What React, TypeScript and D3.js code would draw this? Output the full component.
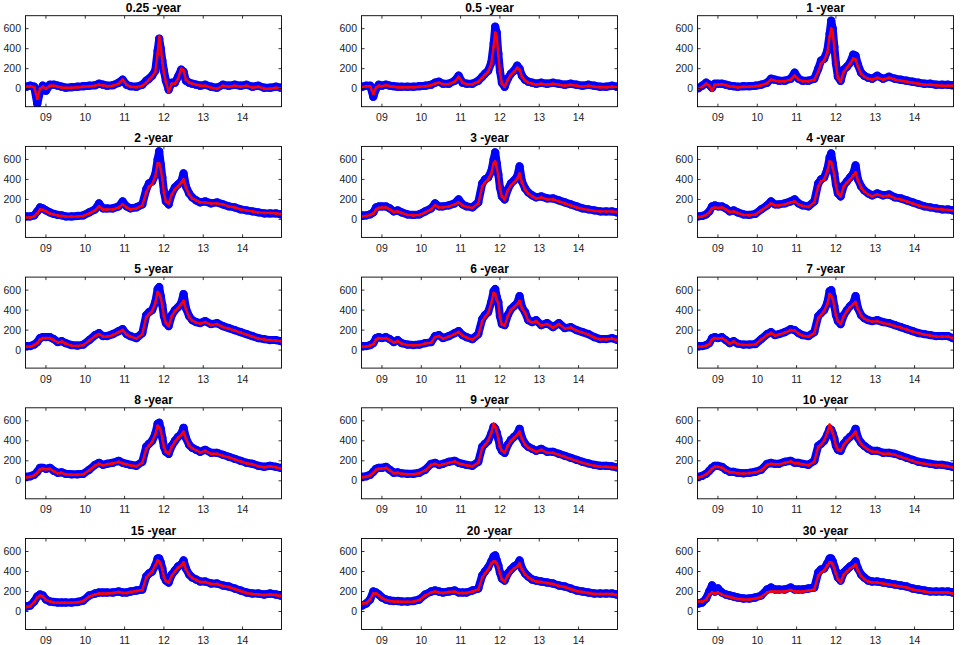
import React, { useEffect, useRef } from 'react';
import * as d3 from 'd3';

// Observation dates (decimal years), shared by all maturities
const dates = [
  2008.50, 2008.60, 2008.70, 2008.78, 2008.85, 2008.92, 2009.00, 2009.10, 2009.20, 2009.30,
  2009.40, 2009.50, 2009.65, 2009.80, 2009.95, 2010.10, 2010.25, 2010.35, 2010.45, 2010.55,
  2010.70, 2010.85, 2010.95, 2011.05, 2011.15, 2011.30, 2011.45, 2011.55, 2011.62, 2011.70,
  2011.78, 2011.84, 2011.88, 2011.92, 2011.96, 2012.00, 2012.05, 2012.12, 2012.20, 2012.28,
  2012.36, 2012.44, 2012.50, 2012.56, 2012.64, 2012.72, 2012.82, 2012.92, 2013.05, 2013.20,
  2013.35, 2013.50, 2013.65, 2013.80, 2013.95, 2014.10, 2014.25, 2014.40, 2014.55, 2014.70,
  2014.85, 2014.97
];

const maturities = ['0.25', '0.5', '1', '2', '3', '4', '5', '6', '7', '8', '9', '10', '15', '20', '30'];

const yTicks = [0, 200, 400, 600];
const xTicks = [2009, 2010, 2011, 2012, 2013, 2014];
const xTickLabels = ['09', '10', '11', '12', '13', '14'];

// observed (blue circles)
const obs025 = [20, 30, 20, -150, -30, 30, -20, 40, 40, 30, 20, 10, 15, 20, 25, 30, 35, 50, 40, 30, 35, 60, 90, 40, 25, 20, 40, 80, 100, 130, 180, 380, 500, 400, 280, 180, 80, -10, 60, 60, 120, 190, 170, 80, 60, 50, 40, 30, 40, 20, 10, 40, 30, 40, 30, 40, 20, 30, 10, 10, 20, 10];
const obs05 = [20, 30, 30, -80, 0, 40, 30, 40, 30, 25, 20, 20, 20, 20, 25, 30, 40, 60, 70, 50, 50, 80, 130, 60, 50, 50, 80, 120, 150, 180, 260, 450, 620, 560, 350, 180, 60, 20, 100, 150, 180, 230, 200, 130, 90, 70, 60, 50, 60, 50, 60, 50, 40, 50, 40, 30, 40, 30, 20, 20, 30, 20];
const obs1 = [5, 30, 60, 40, 10, 50, 50, 50, 40, 30, 25, 20, 25, 25, 30, 40, 60, 100, 90, 80, 80, 100, 160, 100, 80, 80, 100, 200, 280, 300, 380, 550, 680, 600, 420, 250, 120, 80, 190, 220, 260, 340, 330, 240, 160, 130, 110, 100, 130, 100, 120, 100, 90, 80, 70, 60, 50, 50, 40, 40, 40, 35];
const obs2 = [30, 30, 40, 80, 120, 110, 90, 70, 55, 45, 40, 30, 30, 35, 40, 70, 100, 160, 110, 110, 110, 130, 180, 130, 110, 120, 150, 300, 360, 380, 450, 600, 680, 550, 420, 280, 180, 150, 260, 320, 350, 380, 460, 330, 260, 220, 190, 170, 180, 160, 170, 150, 130, 120, 100, 90, 80, 70, 60, 60, 60, 50];
const obs3 = [40, 40, 50, 70, 120, 130, 130, 130, 110, 80, 90, 70, 50, 45, 50, 80, 110, 160, 130, 130, 140, 160, 200, 150, 130, 120, 170, 360, 400, 420, 480, 600, 670, 560, 450, 320, 230, 200, 300, 360, 390, 430, 530, 380, 310, 270, 240, 220, 230, 210, 210, 190, 170, 150, 130, 110, 100, 90, 80, 80, 80, 70];
const obs4 = [30, 35, 50, 80, 130, 140, 130, 130, 110, 80, 90, 70, 50, 45, 55, 100, 140, 180, 150, 150, 160, 180, 200, 160, 140, 130, 180, 360, 400, 420, 500, 620, 660, 560, 460, 350, 260, 230, 340, 380, 420, 460, 540, 400, 330, 290, 260, 240, 260, 240, 250, 220, 210, 190, 170, 150, 130, 120, 110, 100, 100, 90];
const obs5 = [40, 40, 55, 80, 120, 130, 130, 130, 110, 80, 90, 70, 50, 45, 55, 100, 150, 170, 140, 140, 160, 190, 210, 160, 140, 120, 170, 350, 380, 400, 480, 610, 630, 540, 450, 340, 270, 240, 350, 400, 430, 470, 560, 420, 340, 300, 280, 270, 290, 260, 270, 240, 220, 200, 180, 160, 140, 120, 110, 100, 100, 90];
const obs6 = [40, 40, 50, 70, 120, 130, 120, 130, 110, 80, 100, 70, 55, 50, 55, 70, 80, 140, 150, 120, 140, 170, 190, 150, 130, 110, 160, 310, 350, 380, 480, 590, 610, 530, 480, 340, 260, 250, 350, 410, 440, 470, 540, 430, 380, 300, 280, 300, 250, 270, 230, 270, 220, 230, 200, 180, 160, 130, 110, 110, 120, 105];
const obs7 = [40, 40, 50, 70, 120, 130, 120, 130, 100, 70, 90, 65, 55, 55, 60, 110, 160, 180, 150, 160, 180, 210, 200, 170, 150, 140, 180, 340, 370, 400, 470, 590, 600, 530, 440, 350, 290, 260, 350, 400, 440, 470, 540, 420, 350, 320, 300, 290, 300, 280, 270, 250, 230, 210, 190, 170, 160, 150, 140, 140, 140, 120];
const obs8 = [40, 45, 60, 90, 130, 130, 120, 130, 100, 80, 85, 70, 65, 65, 70, 110, 160, 180, 160, 170, 180, 200, 180, 170, 160, 150, 190, 340, 370, 400, 470, 570, 580, 520, 430, 340, 290, 270, 350, 400, 440, 470, 530, 430, 360, 330, 310, 290, 310, 280, 280, 260, 240, 220, 200, 180, 170, 150, 140, 150, 140, 130];
const obs9 = [40, 45, 60, 90, 120, 130, 130, 140, 110, 80, 85, 75, 70, 70, 80, 110, 170, 180, 160, 170, 190, 200, 180, 170, 160, 150, 190, 340, 370, 400, 470, 540, 520, 480, 420, 340, 300, 280, 360, 410, 440, 470, 520, 430, 370, 340, 320, 300, 320, 290, 290, 270, 250, 230, 210, 190, 175, 160, 150, 150, 145, 135];
const obs10 = [40, 50, 70, 100, 130, 150, 150, 140, 110, 90, 90, 80, 75, 80, 90, 110, 170, 180, 170, 170, 190, 200, 180, 180, 170, 160, 200, 350, 370, 400, 460, 520, 510, 470, 420, 350, 310, 300, 370, 410, 440, 470, 520, 430, 380, 350, 320, 300, 300, 280, 280, 270, 250, 230, 210, 190, 180, 170, 160, 160, 150, 140];
const obs15 = [50, 60, 100, 150, 170, 160, 120, 100, 95, 90, 90, 90, 90, 95, 110, 160, 180, 190, 190, 190, 190, 200, 190, 190, 200, 210, 220, 350, 380, 400, 460, 530, 530, 490, 430, 350, 310, 290, 370, 410, 450, 470, 510, 430, 370, 340, 320, 300, 300, 280, 280, 260, 250, 230, 210, 190, 180, 180, 170, 180, 170, 160];
const obs20 = [60, 80, 120, 200, 190, 170, 140, 120, 110, 105, 105, 100, 100, 105, 120, 170, 200, 210, 200, 190, 200, 210, 190, 190, 190, 210, 230, 360, 400, 440, 500, 550, 560, 510, 460, 390, 330, 310, 380, 420, 450, 470, 510, 430, 380, 350, 320, 310, 300, 290, 280, 260, 250, 230, 210, 200, 190, 180, 180, 180, 180, 170];
const obs30 = [80, 90, 130, 200, 260, 200, 230, 190, 170, 160, 150, 140, 130, 130, 140, 160, 220, 240, 220, 220, 220, 240, 220, 220, 220, 230, 240, 390, 420, 430, 480, 530, 530, 500, 450, 400, 340, 310, 390, 420, 450, 470, 500, 430, 370, 340, 310, 300, 300, 290, 280, 270, 260, 250, 230, 220, 210, 200, 200, 200, 200, 190];

// model fit (red)
const fit025 = [20, 25, 15, -100, 0, 20, 0, 30, 30, 20, 10, 10, 10, 15, 20, 25, 30, 40, 35, 25, 30, 50, 90, 40, 20, 15, 30, 60, 90, 120, 170, 350, 520, 420, 260, 160, 70, -30, 50, 50, 100, 200, 180, 90, 60, 50, 40, 30, 30, 10, 0, 30, 20, 30, 20, 30, 10, 20, 0, 0, 10, 0];
const fit05 = [15, 25, 25, -50, 10, 30, 25, 35, 25, 20, 15, 15, 15, 15, 20, 25, 35, 50, 60, 45, 45, 70, 120, 60, 45, 45, 70, 110, 140, 170, 250, 420, 560, 520, 330, 170, 50, 20, 90, 140, 170, 210, 190, 120, 80, 60, 50, 40, 50, 40, 50, 40, 30, 40, 30, 20, 30, 20, 15, 15, 20, 15];
const fit1 = [0, 20, 50, 30, -20, 40, 40, 45, 35, 25, 20, 15, 20, 20, 25, 35, 55, 90, 80, 75, 75, 90, 130, 90, 75, 75, 90, 170, 250, 280, 360, 520, 600, 560, 400, 240, 110, 70, 170, 210, 250, 300, 290, 220, 150, 120, 100, 90, 110, 90, 110, 90, 80, 70, 60, 50, 40, 40, 35, 30, 30, 30];
const fit2 = [20, 20, 30, 60, 100, 95, 80, 60, 50, 40, 35, 28, 28, 30, 35, 60, 90, 130, 100, 100, 100, 120, 150, 120, 100, 110, 140, 270, 330, 350, 430, 560, 560, 500, 400, 270, 180, 160, 250, 300, 330, 370, 400, 320, 250, 210, 190, 170, 170, 160, 160, 150, 130, 120, 100, 90, 80, 70, 65, 65, 60, 55];
const fit3 = [30, 35, 45, 60, 100, 115, 120, 120, 100, 75, 80, 65, 45, 40, 45, 70, 100, 140, 120, 120, 130, 150, 170, 140, 125, 115, 160, 330, 370, 400, 460, 560, 580, 520, 430, 310, 230, 200, 290, 340, 370, 410, 460, 370, 300, 260, 230, 210, 220, 200, 200, 180, 160, 140, 120, 105, 95, 85, 80, 80, 80, 75];
const fit4 = [25, 30, 45, 70, 110, 120, 115, 120, 100, 75, 80, 65, 45, 42, 50, 90, 130, 160, 140, 140, 150, 170, 180, 150, 135, 125, 170, 330, 380, 400, 480, 580, 570, 520, 440, 340, 260, 230, 330, 370, 400, 440, 470, 390, 320, 280, 250, 230, 250, 230, 240, 210, 200, 180, 160, 140, 125, 115, 105, 100, 95, 90];
const fit5 = [35, 35, 50, 70, 105, 120, 120, 120, 100, 75, 85, 65, 45, 42, 50, 95, 140, 160, 135, 135, 150, 180, 200, 155, 135, 115, 160, 330, 360, 390, 470, 580, 560, 520, 440, 340, 270, 240, 340, 390, 420, 460, 490, 410, 330, 295, 275, 265, 280, 250, 260, 230, 215, 195, 175, 155, 135, 115, 105, 100, 95, 90];
const fit6 = [35, 35, 45, 60, 105, 120, 115, 120, 100, 75, 90, 65, 50, 48, 50, 65, 75, 130, 140, 115, 135, 160, 180, 145, 125, 105, 150, 290, 330, 370, 470, 570, 560, 500, 470, 330, 255, 245, 340, 400, 430, 460, 490, 420, 370, 295, 275, 290, 245, 260, 225, 260, 215, 225, 195, 175, 155, 125, 108, 108, 115, 100];
const fit7 = [35, 35, 45, 60, 105, 120, 115, 120, 95, 65, 85, 60, 52, 52, 57, 105, 150, 170, 145, 155, 175, 200, 195, 165, 145, 135, 170, 320, 350, 390, 460, 560, 540, 510, 430, 350, 290, 260, 340, 390, 430, 460, 480, 410, 345, 315, 295, 285, 290, 270, 260, 240, 225, 205, 185, 170, 155, 145, 135, 135, 135, 120];
const fit8 = [35, 40, 55, 80, 115, 120, 115, 120, 95, 75, 80, 65, 60, 60, 65, 105, 150, 170, 155, 165, 175, 190, 175, 165, 155, 145, 180, 320, 350, 390, 460, 550, 530, 500, 420, 340, 290, 270, 340, 390, 430, 460, 490, 420, 355, 325, 305, 285, 300, 270, 270, 250, 235, 215, 195, 175, 165, 145, 135, 145, 135, 125];
const fit9 = [35, 40, 55, 80, 110, 120, 120, 130, 105, 75, 80, 70, 65, 65, 75, 105, 160, 170, 155, 165, 180, 195, 175, 165, 155, 145, 180, 330, 360, 400, 480, 570, 540, 490, 420, 340, 300, 280, 350, 400, 430, 460, 490, 420, 360, 330, 310, 290, 310, 280, 280, 260, 240, 220, 200, 180, 165, 150, 140, 140, 135, 130];
const fit10 = [35, 45, 65, 90, 120, 140, 140, 130, 105, 85, 85, 75, 72, 77, 85, 105, 160, 170, 165, 165, 180, 195, 175, 175, 165, 155, 190, 340, 360, 400, 480, 560, 520, 480, 420, 350, 310, 300, 360, 400, 430, 460, 490, 420, 370, 340, 310, 290, 290, 270, 270, 260, 240, 220, 200, 180, 170, 160, 155, 155, 145, 135];
const fit15 = [45, 55, 95, 140, 160, 150, 115, 100, 90, 88, 88, 88, 88, 92, 105, 150, 170, 180, 180, 180, 185, 195, 185, 185, 195, 205, 215, 340, 370, 400, 460, 510, 500, 470, 420, 345, 305, 290, 360, 400, 440, 460, 490, 420, 365, 335, 315, 295, 295, 275, 275, 255, 245, 225, 205, 185, 175, 170, 165, 170, 165, 155];
const fit20 = [80, 85, 120, 180, 180, 160, 135, 115, 105, 100, 100, 98, 98, 100, 115, 160, 190, 200, 190, 185, 195, 200, 185, 185, 185, 200, 220, 340, 380, 420, 480, 500, 500, 480, 440, 380, 320, 300, 360, 400, 430, 450, 480, 420, 370, 340, 315, 300, 295, 285, 275, 255, 245, 225, 205, 195, 185, 175, 175, 175, 175, 165];
const fit30 = [100, 100, 120, 170, 190, 180, 190, 170, 155, 145, 135, 125, 120, 120, 130, 145, 190, 200, 200, 200, 200, 215, 200, 200, 200, 210, 220, 360, 390, 410, 460, 490, 490, 470, 430, 380, 320, 290, 370, 400, 430, 450, 470, 410, 355, 325, 300, 290, 290, 280, 270, 260, 250, 240, 220, 210, 200, 190, 190, 190, 190, 180];

const observed = [obs025, obs05, obs1, obs2, obs3, obs4, obs5, obs6, obs7, obs8, obs9, obs10, obs15, obs20, obs30];
const fitted = [fit025, fit05, fit1, fit2, fit3, fit4, fit5, fit6, fit7, fit8, fit9, fit10, fit15, fit20, fit30];

const W = 964;
const H = 645;
const colLeft = [25.5, 361.5, 697.5];
const rowTop = [15.7, 146.4, 277.1, 407.8, 538.5];
const pw = 256;
const ph = 91;
const font = 'Arial, "Liberation Sans", Helvetica, sans-serif';

const App: React.FC = () => {
  const ref = useRef<SVGSVGElement>(null);

  useEffect(() => {
    if (!ref.current) return;
    const svg = d3.select(ref.current);
    svg.selectAll('*').remove();

    const x = d3.scaleLinear().domain([2008.48, 2014.99]).range([0, pw]);
    const y = d3.scaleLinear().domain([-180, 730]).range([ph, 0]);

    maturities.forEach((m, i) => {
      const r = Math.floor(i / 3);
      const c = i % 3;
      const g = svg.append('g').attr('transform', `translate(${colLeft[c]},${rowTop[r]})`);

      const clipId = `clip${i}`;
      g.append('clipPath').attr('id', clipId).append('rect').attr('width', pw).attr('height', ph);

      const obsPts = dates.map((d, k) => [d, observed[i][k]] as [number, number]).filter(p => p[1] !== undefined);
      const fitPts = dates.map((d, k) => [d, fitted[i][k]] as [number, number]).filter(p => p[1] !== undefined);

      const line = d3.line<[number, number]>().x(p => x(p[0])).y(p => y(p[1]));
      const plot = g.append('g').attr('clip-path', `url(#${clipId})`);

      // observed: thick blue band of open circles
      plot.append('path').datum(obsPts).attr('d', line).attr('fill', 'none')
        .attr('stroke', '#0000ff').attr('stroke-width', 8).attr('stroke-linejoin', 'round').attr('stroke-linecap', 'round');
      plot.selectAll('circle.obs').data(obsPts).enter().append('circle').attr('class', 'obs')
        .attr('cx', p => x(p[0])).attr('cy', p => y(p[1])).attr('r', 3.6)
        .attr('fill', 'none').attr('stroke', '#0000ff').attr('stroke-width', 1.1);

      // fitted: red line with dots
      plot.append('path').datum(fitPts).attr('d', line).attr('fill', 'none')
        .attr('stroke', '#ff0000').attr('stroke-width', 2.4).attr('stroke-linejoin', 'round');
      plot.selectAll('circle.fit').data(fitPts).enter().append('circle').attr('class', 'fit')
        .attr('cx', p => x(p[0])).attr('cy', p => y(p[1])).attr('r', 1.5).attr('fill', '#ff0000');

      // axes box
      g.append('rect').attr('width', pw).attr('height', ph).attr('fill', 'none')
        .attr('stroke', '#000').attr('stroke-width', 0.9);

      const tl = 3;
      yTicks.forEach(t => {
        g.append('line').attr('x1', 0).attr('x2', tl).attr('y1', y(t)).attr('y2', y(t)).attr('stroke', '#000').attr('stroke-width', 0.8);
        g.append('line').attr('x1', pw).attr('x2', pw - tl).attr('y1', y(t)).attr('y2', y(t)).attr('stroke', '#000').attr('stroke-width', 0.8);
        g.append('text').attr('x', -4.5).attr('y', y(t) + 3.6).attr('text-anchor', 'end')
          .style('font-family', font).style('font-size', '10.5px').attr('fill', '#222').text(String(t));
      });
      xTicks.forEach((t, k) => {
        g.append('line').attr('x1', x(t)).attr('x2', x(t)).attr('y1', ph).attr('y2', ph - tl).attr('stroke', '#000').attr('stroke-width', 0.8);
        g.append('line').attr('x1', x(t)).attr('x2', x(t)).attr('y1', 0).attr('y2', tl).attr('stroke', '#000').attr('stroke-width', 0.8);
        g.append('text').attr('x', x(t)).attr('y', ph + 14.5).attr('text-anchor', 'middle')
          .style('font-family', font).style('font-size', '10.5px').attr('fill', '#222').text(xTickLabels[k]);
      });

      g.append('text').attr('x', pw / 2).attr('y', -4).attr('text-anchor', 'middle')
        .style('font-family', font).style('font-size', '12px').style('font-weight', 'bold')
        .attr('fill', '#000').text(`${m} -year`);
    });
  }, []);

  return <div style={{ position: 'absolute', left: 0, top: 0, width: W, height: H, background: '#fff' }}>
      <svg ref={ref} width={W} height={H} style={{ display: 'block' }}></svg>
    </div>;
};

export default App;
